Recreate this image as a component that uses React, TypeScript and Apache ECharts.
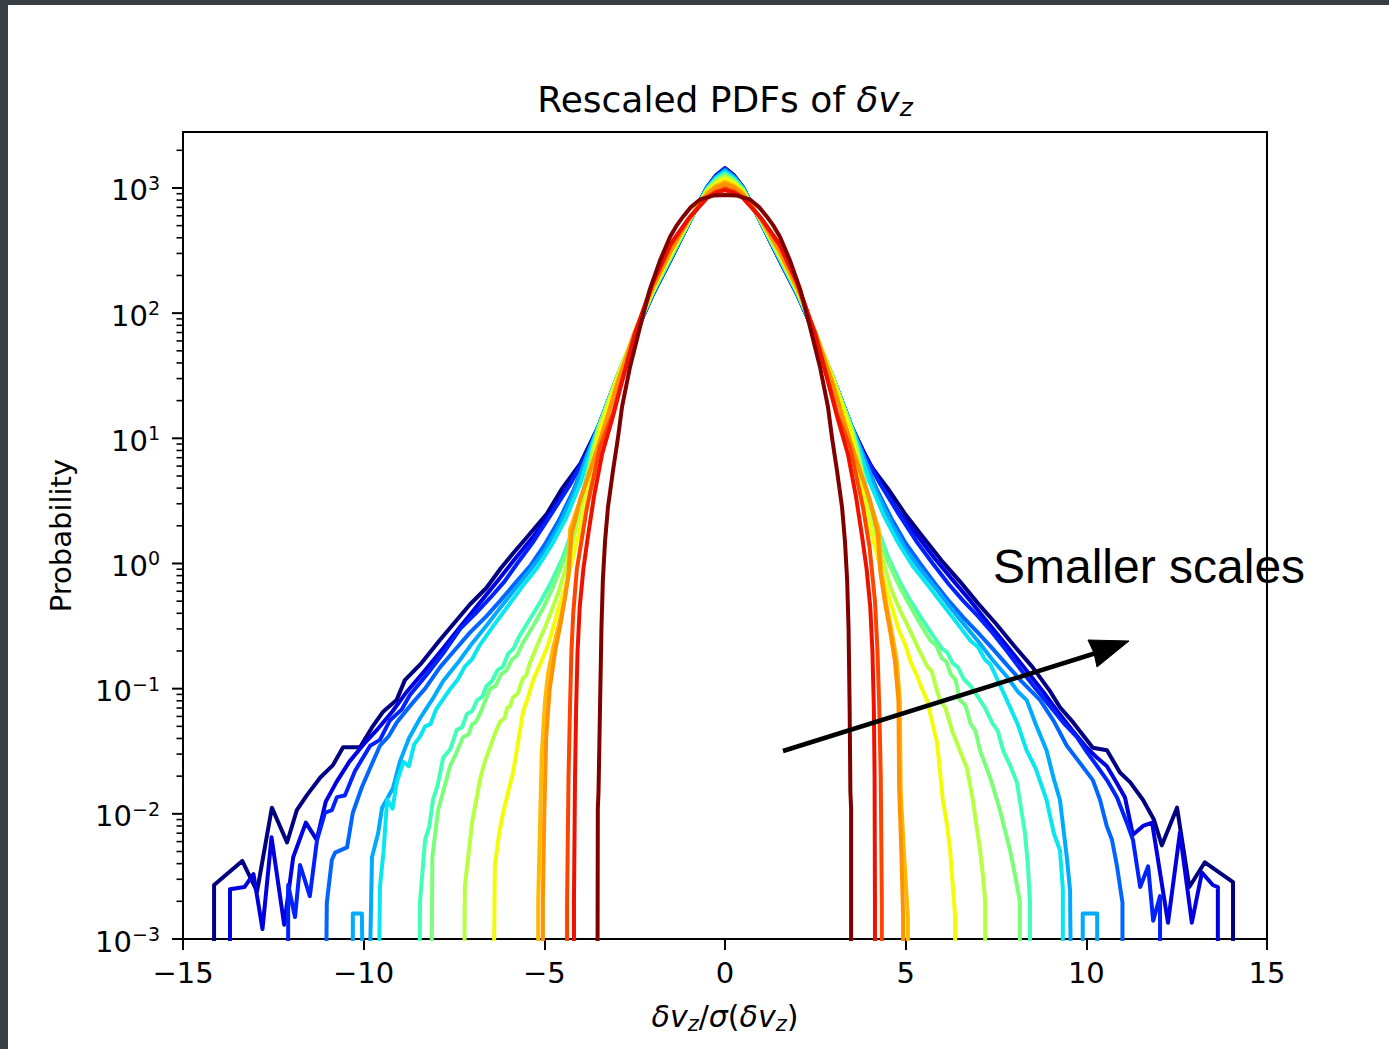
import React, { useEffect, useRef } from 'react';
import * as echarts from 'echarts';

// ---------------- data ----------------
const X_MIN = -15;
const X_MAX = 15;
const X_INTERVAL = 5;
const Y_MIN = 1e-3;
const Y_MAX = 2800;

const MAJOR_Y = [0.001, 0.01, 0.1, 1, 10, 100, 1000];
const MINOR_Y = [
  0.002, 0.003, 0.004, 0.005, 0.006, 0.007, 0.008, 0.009,
  0.02, 0.03, 0.04, 0.05, 0.06, 0.07, 0.08, 0.09,
  0.2, 0.3, 0.4, 0.5, 0.6, 0.7, 0.8, 0.9,
  2, 3, 4, 5, 6, 7, 8, 9,
  20, 30, 40, 50, 60, 70, 80, 90,
  200, 300, 400, 500, 600, 700, 800, 900,
  2000,
];

const COLORS = [
  '#000080', '#0000e0', '#0022ff', '#0066ff', '#00aaff', '#0ae6f0', '#41ffb6', '#7bff7b',
  '#b6ff41', '#f1fc06', '#ffb900', '#ff9200', '#ff4400', '#ee1100', '#800000',
];

const C0 = [
  [-14.14, 1e-5], [-14.14, 2.7e-3], [-13.36, 4.2e-3], [-12.95, 2.4e-3], [-12.54, 1.12e-2], [-12.12, 5.9e-3],
  [-11.85, 1.07e-2], [-11.57, 1.41e-2], [-11.2, 1.95e-2], [-10.85, 2.45e-2], [-10.57, 3.4e-2], [-10.1, 3.4e-2],
  [-9.77, 4.9e-2], [-9.47, 6.5e-2], [-9.09, 8.1e-2], [-8.86, 0.117], [-8.4, 0.16], [-7.89, 0.245], [-7.4, 0.36],
  [-7.06, 0.47], [-6.6, 0.64], [-6.2, 0.92], [-5.87, 1.2], [-5.5, 1.6], [-4.93, 2.5], [-4.5, 4.0], [-4.0, 6.3],
  [-3.5, 12.5], [-3.0, 30], [-2.5, 67], [-2.0, 140], [-1.5, 268], [-1.0, 522], [-0.5, 1010], [-0.25, 1260],
  [0, 1440], [0.25, 1260], [0.5, 1010], [1.0, 522], [1.5, 268], [2.0, 140], [2.5, 67], [3.0, 30], [3.5, 12.5],
  [4.0, 6.2], [4.5, 4.0], [5.0, 2.45], [5.5, 1.6], [6.0, 1.05], [6.5, 0.72], [7.0, 0.48], [7.5, 0.33], [8.0, 0.22],
  [8.5, 0.15], [9.0, 9.5e-2], [9.27, 7.1e-2], [9.63, 5.4e-2], [10.18, 3.37e-2], [10.57, 3.22e-2], [10.93, 2.14e-2],
  [11.21, 1.79e-2], [11.57, 1.29e-2], [11.87, 9e-3], [12.09, 5.6e-3], [12.51, 1.12e-2], [12.85, 2.6e-3],
  [13.28, 4.1e-3], [14.06, 2.85e-3], [14.06, 1e-5],
];

const C1 = [
  [-13.7, 1e-5], [-13.7, 2.5e-3], [-13.3, 2.6e-3], [-13.05, 3.3e-3], [-12.8, 1.2e-3], [-12.55, 6.5e-3], [-12.2, 1.3e-3],
  [-11.95, 4.5e-3], [-11.6, 8.5e-3], [-11.3, 6.2e-3], [-11.05, 1.25e-2], [-10.75, 1.8e-2], [-10.4, 2.6e-2], [-10.0, 3.6e-2],
  [-9.6, 4.8e-2], [-9.2, 6.6e-2], [-8.8, 9.5e-2], [-8.3, 0.14], [-7.8, 0.21], [-7.3, 0.32], [-6.8, 0.48], [-6.3, 0.72],
  [-5.8, 1.1], [-5.3, 1.65], [-4.8, 2.6], [-4.3, 4.3], [-3.8, 8],
  [-3.5, 12.5], [-3.0, 30], [-2.5, 67], [-2.0, 141], [-1.5, 270], [-1.0, 525], [-0.5, 1012], [-0.25, 1255], [0, 1430],
  [0.25, 1255], [0.5, 1012], [1.0, 525], [1.5, 270], [2.0, 141], [2.5, 67], [3.0, 30], [3.5, 12.5],
  [3.8, 8.2], [4.3, 4.4], [4.8, 2.6], [5.3, 1.7], [5.8, 1.1], [6.3, 0.74], [6.8, 0.5], [7.3, 0.33], [7.8, 0.22],
  [8.3, 0.145], [8.8, 9.5e-2], [9.2, 6.6e-2], [9.6, 4.7e-2], [10.0, 3.4e-2], [10.3, 2.8e-2], [10.57, 2.4e-2],
  [10.85, 1.75e-2], [11.07, 1.35e-2], [11.29, 6.8e-3], [11.57, 8e-3], [11.82, 8.5e-3], [12.26, 1.35e-3],
  [12.59, 7.1e-3], [12.92, 1.35e-3], [13.2, 3.4e-3], [13.5, 2.7e-3], [13.64, 2.6e-3], [13.64, 1e-5],
];

const C2 = [
  [-12.09, 1e-5], [-12.09, 2.7e-3], [-11.9, 1.5e-3], [-11.76, 3.9e-3], [-11.49, 2.2e-3], [-11.29, 6.2e-3],
  [-11.07, 1.02e-2], [-10.88, 1.07e-2], [-10.74, 1.36e-2], [-10.52, 1.4e-2], [-10.24, 2.2e-2], [-9.82, 3.5e-2],
  [-9.55, 3.9e-2], [-9.27, 5.6e-2], [-8.95, 6.8e-2], [-8.72, 8.9e-2], [-8.4, 0.115], [-8.16, 0.14], [-7.75, 0.2],
  [-7.33, 0.3], [-6.9, 0.4], [-6.5, 0.53], [-6.1, 0.72], [-5.75, 1.0], [-5.3, 1.5], [-4.8, 2.5], [-4.3, 4.2], [-3.8, 7.8],
  [-3.5, 12.5], [-3.0, 30], [-2.5, 67], [-2.0, 141], [-1.5, 271], [-1.0, 526], [-0.5, 1010], [-0.25, 1245], [0, 1420],
  [0.25, 1245], [0.5, 1010], [1.0, 526], [1.5, 271], [2.0, 141], [2.5, 67], [3.0, 30], [3.5, 12.5],
  [3.8, 7.9], [4.3, 4.3], [4.8, 2.5], [5.3, 1.5], [5.75, 1.0], [6.2, 0.68], [6.6, 0.5], [7.0, 0.38], [7.4, 0.28],
  [7.8, 0.2], [8.2, 0.14], [8.6, 0.1], [9.0, 7.2e-2], [9.4, 5.2e-2], [9.74, 4.1e-2], [10.02, 3.1e-2], [10.3, 2.4e-2],
  [10.57, 1.86e-2], [10.85, 1.35e-2], [11.12, 8.5e-3], [11.29, 6.2e-3], [11.49, 2.6e-3], [11.71, 3.8e-3],
  [11.85, 1.4e-3], [12.04, 2.2e-3], [12.04, 1e-5],
];

const C3 = [
  [-11.1, 1e-5], [-11.02, 1.95e-3], [-10.88, 4.3e-3], [-10.79, 4.9e-3], [-10.46, 5.4e-3], [-10.3, 1.02e-2],
  [-10.05, 1.63e-2], [-9.8, 2.4e-2], [-9.55, 3.5e-2], [-9.3, 4.2e-2], [-9.08, 5.4e-2], [-8.8, 6.8e-2], [-8.58, 8.1e-2],
  [-8.3, 0.1], [-7.89, 0.148], [-7.5, 0.2], [-7.06, 0.28], [-6.6, 0.38], [-6.23, 0.5], [-5.8, 0.7], [-5.4, 0.95],
  [-5.0, 1.4], [-4.6, 2.2], [-4.2, 3.8], [-3.8, 7.5],
  [-3.5, 12.5], [-3.0, 30], [-2.5, 67], [-2.0, 142], [-1.5, 273], [-1.0, 527], [-0.5, 1005], [-0.25, 1230], [0, 1400],
  [0.25, 1230], [0.5, 1005], [1.0, 527], [1.5, 273], [2.0, 142], [2.5, 67], [3.0, 30], [3.5, 12.5],
  [3.8, 7.5], [4.2, 3.9], [4.6, 2.3], [5.0, 1.45], [5.4, 1.0], [5.8, 0.7], [6.2, 0.5], [6.6, 0.37], [7.0, 0.28],
  [7.4, 0.21], [7.8, 0.155], [8.2, 0.115], [8.72, 8.1e-2], [9.1, 5.5e-2], [9.46, 3.5e-2], [9.8, 2.6e-2],
  [10.18, 1.86e-2], [10.38, 1.29e-2], [10.57, 7.9e-3], [10.71, 6.2e-3], [10.85, 3.8e-3], [11.0, 1.95e-3], [11.0, 1e-5],
];

const C4 = [
  [-10.3, 1e-5], [-10.3, 1.6e-3], [-10.05, 1.6e-3], [-9.95, 1e-5], [-9.77, 4.5e-3], [-9.6, 7e-3], [-9.49, 1.12e-2],
  [-9.19, 1.6e-2], [-9.0, 2.6e-2], [-8.75, 4e-2], [-8.44, 5.8e-2], [-8.1, 8.2e-2], [-7.8, 0.115], [-7.4, 0.16],
  [-7.0, 0.23], [-6.6, 0.32], [-6.2, 0.45], [-5.8, 0.63], [-5.4, 0.88], [-5.0, 1.25], [-4.6, 2.0], [-4.2, 3.6], [-3.8, 7.5],
  [-3.5, 12.5], [-3.0, 30], [-2.5, 67], [-2.0, 143], [-1.5, 275], [-1.0, 528], [-0.5, 1000], [-0.25, 1220], [0, 1380],
  [0.25, 1220], [0.5, 1000], [1.0, 528], [1.5, 275], [2.0, 143], [2.5, 67], [3.0, 30], [3.5, 12.5],
  [3.8, 7.6], [4.2, 3.7], [4.6, 2.1], [5.0, 1.3], [5.4, 0.9], [5.8, 0.65], [6.2, 0.46], [6.6, 0.33], [7.0, 0.24],
  [7.4, 0.17], [7.8, 0.125], [8.1, 9.5e-2], [8.35, 8.1e-2], [8.6, 5.2e-2], [8.9, 3.2e-2], [9.1, 1.9e-2],
  [9.27, 1.29e-2], [9.46, 4.5e-3], [9.55, 2.45e-3], [9.62, 1e-5], [9.9, 1e-5], [9.9, 1.6e-3], [10.3, 1.6e-3], [10.3, 1e-5],
];

const C5 = [
  [-9.63, 1e-5], [-9.55, 2.6e-3], [-9.45, 5e-3], [-9.35, 1.3e-2], [-9.2, 1.1e-2], [-9.08, 1.8e-2], [-8.9, 2.6e-2],
  [-8.75, 2.4e-2], [-8.6, 3.6e-2], [-8.45, 4.1e-2], [-8.3, 5e-2], [-8.15, 5.2e-2], [-8.0, 6.8e-2], [-7.6, 0.1],
  [-7.4, 0.118], [-7.2, 0.15], [-7.0, 0.172], [-6.8, 0.22], [-6.4, 0.32], [-6.0, 0.46],
  [-5.6, 0.66], [-5.2, 0.92], [-4.8, 1.4], [-4.4, 2.3], [-4.0, 4.4], [-3.75, 7.5],
  [-3.5, 12.5], [-3.0, 30], [-2.5, 68], [-2.0, 145], [-1.5, 278], [-1.0, 530], [-0.5, 990], [-0.25, 1200], [0, 1340],
  [0.25, 1200], [0.5, 990], [1.0, 530], [1.5, 278], [2.0, 145], [2.5, 68], [3.0, 30], [3.5, 12.5],
  [3.75, 7.6], [4.0, 4.5], [4.4, 2.4], [4.8, 1.45], [5.2, 0.95], [5.6, 0.68], [6.0, 0.48], [6.4, 0.34], [6.8, 0.24],
  [7.0, 0.215], [7.2, 0.17], [7.35, 0.155], [7.5, 0.125], [7.8, 8.1e-2], [8.1, 5.2e-2], [8.35, 3.2e-2], [8.6, 2.3e-2],
  [8.9, 1.29e-2], [9.1, 7e-3], [9.27, 5.1e-3], [9.35, 2.5e-3], [9.35, 1e-5],
];

const C6 = [
  [-8.5, 1e-5], [-8.44, 2e-3], [-8.3, 6.2e-3], [-8.18, 8e-3], [-8.08, 1.3e-2], [-7.95, 1.7e-2], [-7.8, 2.8e-2],
  [-7.6, 3.3e-2], [-7.42, 4.7e-2], [-7.28, 4.9e-2], [-7.14, 6.3e-2], [-7.0, 6.6e-2], [-6.86, 8.1e-2], [-6.72, 8.6e-2],
  [-6.6, 0.105], [-6.45, 0.115], [-6.3, 0.14], [-6.15, 0.15], [-6.0, 0.19], [-5.85, 0.21],
  [-5.7, 0.26], [-5.4, 0.36], [-5.1, 0.5], [-4.8, 0.72], [-4.5, 1.1], [-4.2, 1.9], [-3.9, 4.0], [-3.65, 8.5],
  [-3.5, 12], [-3.0, 30], [-2.5, 68], [-2.0, 146], [-1.5, 282], [-1.0, 535], [-0.5, 975], [-0.25, 1170], [0, 1300],
  [0.25, 1170], [0.5, 975], [1.0, 535], [1.5, 282], [2.0, 146], [2.5, 68], [3.0, 30], [3.5, 12],
  [3.65, 8.6], [3.9, 4.1], [4.2, 2.0], [4.5, 1.15], [4.8, 0.75], [5.1, 0.52], [5.4, 0.38], [5.7, 0.28], [6.0, 0.21],
  [6.15, 0.195], [6.3, 0.16], [6.45, 0.148], [6.6, 0.12], [6.8, 0.105], [7.06, 8.1e-2], [7.2, 7e-2], [7.4, 5.3e-2],
  [7.55, 4.6e-2], [7.7, 3.2e-2], [7.9, 2.4e-2], [8.08, 1.78e-2],
  [8.3, 7.1e-3], [8.38, 4e-3], [8.44, 2e-3], [8.44, 1e-5],
];

const C7 = [
  [-8.16, 1e-5], [-8.1, 4.5e-3], [-7.94, 1.07e-2], [-7.8, 1.5e-2], [-7.61, 2.4e-2], [-7.45, 3e-2], [-7.25, 4.1e-2],
  [-7.1, 4.3e-2], [-7.0, 5.2e-2], [-6.9, 5.4e-2], [-6.78, 6.3e-2], [-6.65, 7.8e-2], [-6.5, 0.1], [-6.35, 0.105],
  [-6.2, 0.13], [-6.05, 0.14], [-5.9, 0.17], [-5.75, 0.185], [-5.6, 0.23], [-5.3, 0.32], [-5.0, 0.46],
  [-4.75, 0.66], [-4.5, 1.0], [-4.25, 1.6], [-4.0, 2.8], [-3.7, 7],
  [-3.5, 12], [-3.0, 30], [-2.5, 69], [-2.0, 148], [-1.5, 286], [-1.0, 540], [-0.5, 965], [-0.25, 1145], [0, 1270],
  [0.25, 1145], [0.5, 965], [1.0, 540], [1.5, 286], [2.0, 148], [2.5, 69], [3.0, 30], [3.5, 12],
  [3.7, 7.1], [4.0, 2.9], [4.25, 1.65], [4.5, 1.05], [4.8, 0.68], [5.1, 0.47], [5.4, 0.33], [5.7, 0.24], [5.85, 0.22],
  [6.0, 0.175], [6.12, 0.165], [6.25, 0.13], [6.38, 0.118], [6.5, 8.1e-2], [6.65, 7.4e-2], [6.8, 5.2e-2],
  [6.93, 4.6e-2], [7.06, 3.2e-2], [7.35, 1.9e-2], [7.61, 1.07e-2], [7.89, 5.1e-3],
  [8.05, 3e-3], [8.16, 2e-3], [8.16, 1e-5],
];

const C8 = [
  [-7.25, 1e-5], [-7.2, 2.6e-3], [-7.0, 8.5e-3], [-6.78, 1.87e-2], [-6.65, 2.6e-2], [-6.5, 3.4e-2], [-6.35, 4.5e-2],
  [-6.23, 5.4e-2], [-6.1, 5.8e-2], [-6.03, 7e-2], [-5.95, 7.2e-2], [-5.87, 8.5e-2], [-5.73, 9.2e-2], [-5.6, 0.12],
  [-5.5, 0.128], [-5.4, 0.16], [-5.2, 0.22], [-5.0, 0.3], [-4.8, 0.42],
  [-4.6, 0.6], [-4.37, 1.0], [-4.15, 1.8], [-3.9, 3.6], [-3.65, 8],
  [-3.5, 11.5], [-3.0, 30], [-2.5, 69], [-2.0, 150], [-1.5, 290], [-1.0, 545], [-0.5, 950], [-0.25, 1120], [0, 1230],
  [0.25, 1120], [0.5, 950], [1.0, 545], [1.5, 290], [2.0, 150], [2.5, 69], [3.0, 30], [3.5, 11.5],
  [3.65, 8.1], [3.9, 3.7], [4.15, 1.85], [4.37, 1.05], [4.6, 0.62], [4.85, 0.42], [5.1, 0.3], [5.35, 0.21], [5.6, 0.15],
  [5.72, 0.138], [5.85, 0.1], [5.95, 8.1e-2], [6.1, 7e-2], [6.3, 4.5e-2], [6.5, 3.2e-2], [6.7, 2.3e-2],
  [6.86, 1.29e-2], [7.06, 5.1e-3], [7.15, 3e-3], [7.2, 2e-3], [7.2, 1e-5],
];

const C9 = [
  [-6.45, 1e-5], [-6.37, 3.8e-3], [-6.25, 7e-3], [-6.14, 1.02e-2], [-6.0, 1.5e-2], [-5.87, 2.1e-2], [-5.72, 3.8e-2],
  [-5.59, 6.5e-2], [-5.45, 8.5e-2], [-5.31, 0.117], [-5.1, 0.16], [-4.93, 0.21], [-4.78, 0.29], [-4.65, 0.4],
  [-4.5, 0.55], [-4.37, 0.74], [-4.2, 1.15], [-4.0, 1.95], [-3.75, 4.2],
  [-3.5, 11], [-3.0, 29], [-2.5, 70], [-2.0, 153], [-1.5, 298], [-1.0, 550], [-0.5, 935], [-0.25, 1090], [0, 1190],
  [0.25, 1090], [0.5, 935], [1.0, 550], [1.5, 298], [2.0, 153], [2.5, 70], [3.0, 29], [3.5, 11],
  [3.75, 4.3], [4.0, 2.0], [4.2, 1.2], [4.37, 0.78], [4.5, 0.58], [4.65, 0.42], [4.8, 0.3], [5.0, 0.22], [5.15, 0.16],
  [5.3, 0.13], [5.45, 0.1], [5.59, 8.1e-2], [5.75, 5.2e-2], [5.87, 3.7e-2], [6.03, 1.29e-2], [6.15, 8e-3],
  [6.23, 5.1e-3], [6.37, 1.5e-3], [6.37, 1e-5],
];

const C10 = [
  [-5.17, 1e-5], [-5.17, 2e-3], [-5.12, 8e-3], [-5.07, 3e-2], [-4.98, 8e-2], [-4.9, 0.13], [-4.76, 0.21], [-4.6, 0.32],
  [-4.45, 0.5], [-4.33, 0.85], [-4.29, 1.86], [-4.01, 3.2], [-3.65, 6.5], [-3.27, 14],
  [-3.0, 27], [-2.5, 70], [-2.0, 158], [-1.5, 310], [-1.0, 558], [-0.5, 905], [-0.25, 1040], [0, 1120],
  [0.25, 1040], [0.5, 905], [1.0, 558], [1.5, 310], [2.0, 158], [2.5, 70], [3.0, 27],
  [3.27, 14], [3.65, 6.5], [4.0, 3.2], [4.25, 1.9], [4.32, 0.9], [4.45, 0.5], [4.6, 0.3], [4.75, 0.17], [4.84, 8.1e-2],
  [4.86, 1.6e-2], [4.95, 5e-3], [5.06, 1.5e-3], [5.06, 1e-5],
];

const C11 = [
  [-5.04, 1e-5], [-5.04, 2e-3], [-5.0, 1e-2], [-4.95, 4e-2], [-4.85, 0.1], [-4.7, 0.2], [-4.55, 0.33], [-4.42, 0.55],
  [-4.33, 0.8], [-4.25, 1.7], [-4.0, 3.3], [-3.65, 6.5], [-3.3, 13.5],
  [-3.0, 26], [-2.5, 70], [-2.0, 160], [-1.5, 318], [-1.0, 562], [-0.5, 890], [-0.25, 1010], [0, 1080],
  [0.25, 1010], [0.5, 890], [1.0, 562], [1.5, 318], [2.0, 160], [2.5, 70], [3.0, 26],
  [3.3, 13.5], [3.65, 6.5], [4.0, 3.3], [4.22, 1.8], [4.3, 0.85], [4.42, 0.5], [4.56, 0.3], [4.7, 0.17], [4.8, 8e-2],
  [4.82, 1.6e-2], [4.88, 5e-3], [4.93, 1.5e-3], [4.93, 1e-5],
];

const C12 = [
  [-4.37, 1e-5], [-4.37, 2e-3], [-4.33, 2e-2], [-4.29, 7e-2], [-4.25, 0.2], [-4.2, 0.4], [-4.1, 0.9], [-4.0, 1.35],
  [-3.82, 2.8], [-3.46, 8.5], [-3.1, 15.8],
  [-2.9, 26], [-2.5, 68], [-2.0, 172], [-1.5, 350], [-1.0, 570], [-0.5, 840], [-0.25, 940], [0, 990],
  [0.25, 940], [0.5, 840], [1.0, 570], [1.5, 350], [2.0, 172], [2.5, 68], [2.9, 26],
  [3.1, 15.8], [3.46, 8.5], [3.82, 2.8], [4.0, 1.35], [4.15, 0.5], [4.22, 0.2], [4.27, 7e-2], [4.31, 2e-2],
  [4.34, 2e-3], [4.34, 1e-5],
];

const C13 = [
  [-4.18, 1e-5], [-4.18, 2e-3], [-4.15, 2e-2], [-4.12, 7e-2], [-4.08, 0.2], [-4.02, 0.45], [-3.92, 0.9], [-3.8, 1.6],
  [-3.62, 3.5], [-3.4, 7.5], [-3.1, 15],
  [-2.9, 25], [-2.5, 67], [-2.0, 175], [-1.5, 360], [-1.0, 575], [-0.5, 830], [-0.25, 915], [0, 960],
  [0.25, 915], [0.5, 830], [1.0, 575], [1.5, 360], [2.0, 175], [2.5, 67], [2.9, 25],
  [3.1, 15], [3.4, 7.5], [3.62, 3.5], [3.8, 1.6], [3.92, 0.9], [4.02, 0.45], [4.08, 0.2], [4.12, 7e-2], [4.14, 2e-2],
  [4.15, 2e-3], [4.15, 1e-5],
];

const C14 = [
  [-3.54, 1e-5], [-3.52, 1.1e-2], [-3.5, 1.5e-2], [-3.46, 6.8e-2], [-3.42, 0.3], [-3.38, 0.74], [-3.32, 1.5],
  [-3.24, 2.8], [-3.1, 5.5], [-2.96, 10.2], [-2.85, 17.8], [-2.63, 37], [-2.35, 78], [-2.08, 155], [-1.8, 263],
  [-1.52, 407], [-1.35, 495], [-1.16, 590], [-0.95, 700], [-0.69, 810], [-0.3, 872], [0, 880], [0.3, 872],
  [0.69, 810], [0.95, 700], [1.16, 590], [1.35, 495],
  [1.52, 407], [1.8, 263], [2.08, 155], [2.35, 78], [2.63, 37], [2.85, 17.8], [2.96, 10.2], [3.1, 5.5],
  [3.24, 2.8], [3.32, 1.5], [3.38, 0.74], [3.42, 0.3], [3.45, 6.8e-2], [3.47, 1.5e-2], [3.49, 1.1e-2], [3.49, 1e-5],
];

const CURVES = [C0, C1, C2, C3, C4, C5, C6, C7, C8, C9, C10, C11, C12, C13, C14];

const TITLE = '{n|Rescaled PDFs of }{m|δv}{z|z}';
const X_NAME = '{i|δv}{sub|z}{r|/}{i|σ}{r|(}{i|δv}{sub|z}{r|)}';
const Y_NAME = 'Probability';
const NOTE = 'Smaller scales';

const FONT = 'DejaVu Sans';

function fmtX(v: number) {
  return v < 0 ? '\u2212' + String(-v) : String(v);
}
function fmtY(v: number) {
  const e = Math.round(Math.log10(v));
  const s = e < 0 ? '\u2212' + String(-e) : String(e);
  return '{b|10}{s|' + s + '}';
}

function tickSeries(values: number[], len: number, width: number) {
  return {
    type: 'custom',
    silent: true,
    clip: false,
    z: 5,
    data: values.map((v) => [X_MIN, v]),
    encode: { x: 0, y: 1 },
    renderItem: (_p: any, api: any) => {
      const p = api.coord([api.value(0), api.value(1)]);
      return {
        type: 'line',
        shape: { x1: p[0] - len, y1: p[1], x2: p[0], y2: p[1] },
        style: { stroke: '#000', lineWidth: width },
      };
    },
  };
}

export default function App() {
  const ref = useRef<HTMLDivElement>(null);

  useEffect(() => {
    if (!ref.current) return;
    const chart = echarts.init(ref.current, null, { renderer: 'svg' });

    const lineSeries = CURVES.map((d, i) => ({
      type: 'line',
      name: 'c' + i,
      data: d,
      showSymbol: false,
      symbol: 'none',
      silent: true,
      clip: true,
      lineStyle: { color: COLORS[i], width: 4, join: 'round', cap: 'butt' },
      itemStyle: { color: COLORS[i] },
      emphasis: { disabled: true },
      z: 2,
    }));

    const option: any = {
      animation: false,
      backgroundColor: '#ffffff',
      grid: { left: 183, top: 132, width: 1084, height: 807, containLabel: false },
      xAxis: [
        {
          type: 'value',
          min: X_MIN,
          max: X_MAX,
          interval: X_INTERVAL,
          position: 'bottom',
          axisLine: { show: true, onZero: false, lineStyle: { color: '#000', width: 2 } },
          axisTick: { show: true, inside: false, length: 11, lineStyle: { color: '#000', width: 2 } },
          axisLabel: {
            fontFamily: FONT, fontSize: 29, lineHeight: 30, color: '#000', margin: 19, formatter: fmtX,
          },
          splitLine: { show: false },
          name: X_NAME,
          nameLocation: 'middle',
          nameGap: 56,
          nameTextStyle: {
            rich: {
              i: { fontFamily: FONT, fontStyle: 'italic', fontSize: 30, lineHeight: 36, verticalAlign: 'bottom', color: '#000' },
              r: { fontFamily: FONT, fontSize: 30, lineHeight: 36, verticalAlign: 'bottom', color: '#000' },
              sub: { fontFamily: FONT, fontStyle: 'italic', fontSize: 21, lineHeight: 21, height: 14, verticalAlign: 'bottom', color: '#000' },
            },
          },
        },
        {
          type: 'value',
          min: X_MIN,
          max: X_MAX,
          position: 'top',
          axisLine: { show: true, onZero: false, lineStyle: { color: '#000', width: 2 } },
          axisTick: { show: false },
          axisLabel: { show: false },
          splitLine: { show: false },
        },
      ],
      yAxis: [
        {
          type: 'log',
          logBase: 10,
          min: Y_MIN,
          max: Y_MAX,
          position: 'left',
          axisLine: { show: true, onZero: false, lineStyle: { color: '#000', width: 2 } },
          axisTick: { show: false },
          minorTick: { show: false },
          axisLabel: {
            margin: 23,
            showMaxLabel: false,
            formatter: fmtY,
            rich: {
              b: { fontFamily: FONT, fontSize: 29, lineHeight: 34, verticalAlign: 'bottom', color: '#000' },
              s: { fontFamily: FONT, fontSize: 19, lineHeight: 19, height: 24, verticalAlign: 'top', color: '#000' },
            },
          },
          splitLine: { show: false },
          name: Y_NAME,
          nameLocation: 'middle',
          nameGap: 108,
          nameTextStyle: { fontFamily: FONT, fontSize: 29, color: '#000' },
        },
        {
          type: 'value',
          min: 0,
          max: 1,
          position: 'right',
          axisLine: { show: true, onZero: false, lineStyle: { color: '#000', width: 2 } },
          axisTick: { show: false },
          axisLabel: { show: false },
          splitLine: { show: false },
        },
      ],
      series: [...lineSeries, tickSeries(MAJOR_Y, 11, 2), tickSeries(MINOR_Y, 6.5, 1.6)],
      graphic: [
        { type: 'rect', silent: true, shape: { x: 0, y: 0, width: 1389, height: 5 }, style: { fill: '#373f44' } },
        { type: 'rect', silent: true, shape: { x: 0, y: 0, width: 8, height: 1049 }, style: { fill: '#373f44' } },
        {
          type: 'text',
          silent: true,
          x: 725,
          y: 97,
          style: {
            text: TITLE,
            align: 'center',
            verticalAlign: 'middle',
            textAlign: 'center',
            textVerticalAlign: 'middle',
            rich: {
              n: { fontFamily: FONT, fontSize: 36, lineHeight: 40, verticalAlign: 'bottom', fill: '#000' },
              m: { fontFamily: FONT, fontStyle: 'italic', fontSize: 36, lineHeight: 40, verticalAlign: 'bottom', fill: '#000' },
              z: { fontFamily: FONT, fontStyle: 'italic', fontSize: 25, lineHeight: 25, height: 20, verticalAlign: 'bottom', fill: '#000' },
            },
          },
        },
        {
          type: 'text',
          silent: true,
          x: 993,
          y: 566,
          z: 50,
          style: {
            text: NOTE,
            fontFamily: 'Liberation Sans',
            fontSize: 48,
            fill: '#000',
            align: 'left',
            verticalAlign: 'middle',
            textAlign: 'left',
            textVerticalAlign: 'middle',
          },
        },
        {
          type: 'line',
          silent: true,
          z: 50,
          shape: { x1: 783, y1: 751, x2: 1096, y2: 653 },
          style: { stroke: '#000', lineWidth: 4.5 },
        },
        {
          type: 'polygon',
          silent: true,
          z: 51,
          shape: { points: [[1129, 641], [1088, 640], [1094, 653], [1097, 667]] },
          style: { fill: '#000', stroke: '#000', lineWidth: 1 },
        },
      ],
    };

    chart.setOption(option);
    return () => chart.dispose();
  }, []);

  return (
    <div style={{ position: 'fixed', left: 0, top: 0, width: 1389, height: 1049, background: '#fff' }}>
      <div ref={ref} style={{ width: 1389, height: 1049 }} />
    </div>
  );
}
